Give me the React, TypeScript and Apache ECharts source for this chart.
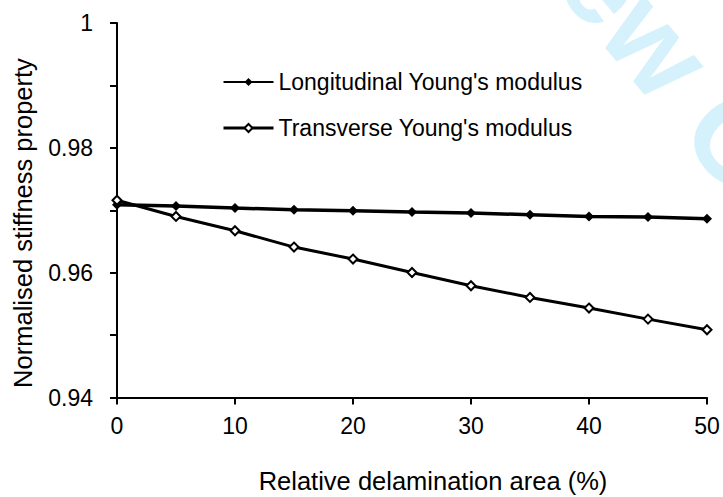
import React, { useEffect, useRef } from "react";
import * as echarts from "echarts";

const xValues = [0, 5, 10, 15, 20, 25, 30, 35, 40, 45, 50];
const longitudinal = [0.9709, 0.9707, 0.97035, 0.97008, 0.96992, 0.96971, 0.96955, 0.96928, 0.96901, 0.96891, 0.96864];
const transverse = [0.9716, 0.96901, 0.96671, 0.9641, 0.96218, 0.96003, 0.9579, 0.95603, 0.95433, 0.95256, 0.95085];
const seriesNames = ["Longitudinal Young's modulus", "Transverse Young's modulus"];
const xTitle = "Relative delamination area (%)";
const yTitle = "Normalised stiffness property";
const watermark = "For Peer Review Only";

const FONT = "'Liberation Sans', Arial, sans-serif";

export default function App() {
  const ref = useRef<HTMLDivElement>(null);
  useEffect(() => {
    if (!ref.current) return;
    const chart = echarts.init(ref.current, undefined, { renderer: "svg" });
    const toPairs = (ys: number[]) => xValues.map((x, i) => [x, ys[i]]);
    chart.setOption({
      animation: false,
      backgroundColor: "#fff",
      textStyle: { fontFamily: FONT },
      grid: { left: 117, right: 16, top: 23, bottom: 99.5 },
      legend: {
        orient: "vertical",
        left: 217,
        top: 65.5,
        itemWidth: 50,
        itemHeight: 10,
        itemGap: 23,
        textStyle: { fontSize: 23, color: "#000", fontFamily: FONT, lineHeight: 23 },
        data: [
          { name: seriesNames[0], lineStyle: { width: 2 } },
          { name: seriesNames[1], lineStyle: { width: 3 } },
        ],
      },
      xAxis: {
        type: "value",
        min: 0,
        max: 50,
        interval: 10,
        splitLine: { show: false },
        axisLine: { lineStyle: { color: "#000", width: 2 } },
        axisTick: { length: 7, lineStyle: { color: "#000", width: 2 } },
        axisLabel: { fontSize: 23, color: "#000", margin: 17, fontFamily: FONT },
      },
      yAxis: {
        type: "value",
        min: 0.94,
        max: 1,
        interval: 0.01,
        splitLine: { show: false },
        axisLine: { show: true, lineStyle: { color: "#000", width: 2 } },
        axisTick: { show: true, length: 7, lineStyle: { color: "#000", width: 2 } },
        axisLabel: {
          fontSize: 23,
          color: "#000",
          margin: 24,
          fontFamily: FONT,
          formatter: (v: number) => {
            const k = Math.round(v * 100);
            if (k % 2 !== 0) return "";
            return k === 100 ? "1" : (k / 100).toFixed(2);
          },
        },
      },
      graphic: [
        {
          type: "text",
          x: 880,
          y: 310,
          rotation: -0.873,
          z: -10,
          silent: true,
          style: {
            text: watermark,
            fontSize: 120,
            fontWeight: "bold",
            fontFamily: FONT,
            fill: "#d5f1fc",
            align: "right",
            verticalAlign: "middle",
          },
        },
        {
          type: "text",
          x: 433,
          y: 481,
          style: {
            text: xTitle,
            fontSize: 25.5,
            fontFamily: FONT,
            fill: "#000",
            align: "center",
            verticalAlign: "middle",
          },
        },
        {
          type: "text",
          x: 23,
          y: 223,
          rotation: Math.PI / 2,
          style: {
            text: yTitle,
            fontSize: 25.5,
            fontFamily: FONT,
            fill: "#000",
            align: "center",
            verticalAlign: "middle",
          },
        },
      ],
      series: [
        {
          name: seriesNames[0],
          type: "line",
          data: toPairs(longitudinal),
          symbol: "diamond",
          symbolSize: 10,
          showSymbol: true,
          itemStyle: { color: "#000" },
          lineStyle: { color: "#000", width: 3.5 },
          z: 3,
        },
        {
          name: seriesNames[1],
          type: "line",
          data: toPairs(transverse),
          symbol: "diamond",
          symbolSize: 9,
          showSymbol: true,
          itemStyle: { color: "#fff", borderColor: "#000", borderWidth: 2 },
          lineStyle: { color: "#000", width: 3 },
          z: 4,
        },
      ],
    });
    return () => chart.dispose();
  }, []);
  return (
    <div
      ref={ref}
      style={{ position: "absolute", left: 0, top: 0, width: 723, height: 497 }}
    />
  );
}
